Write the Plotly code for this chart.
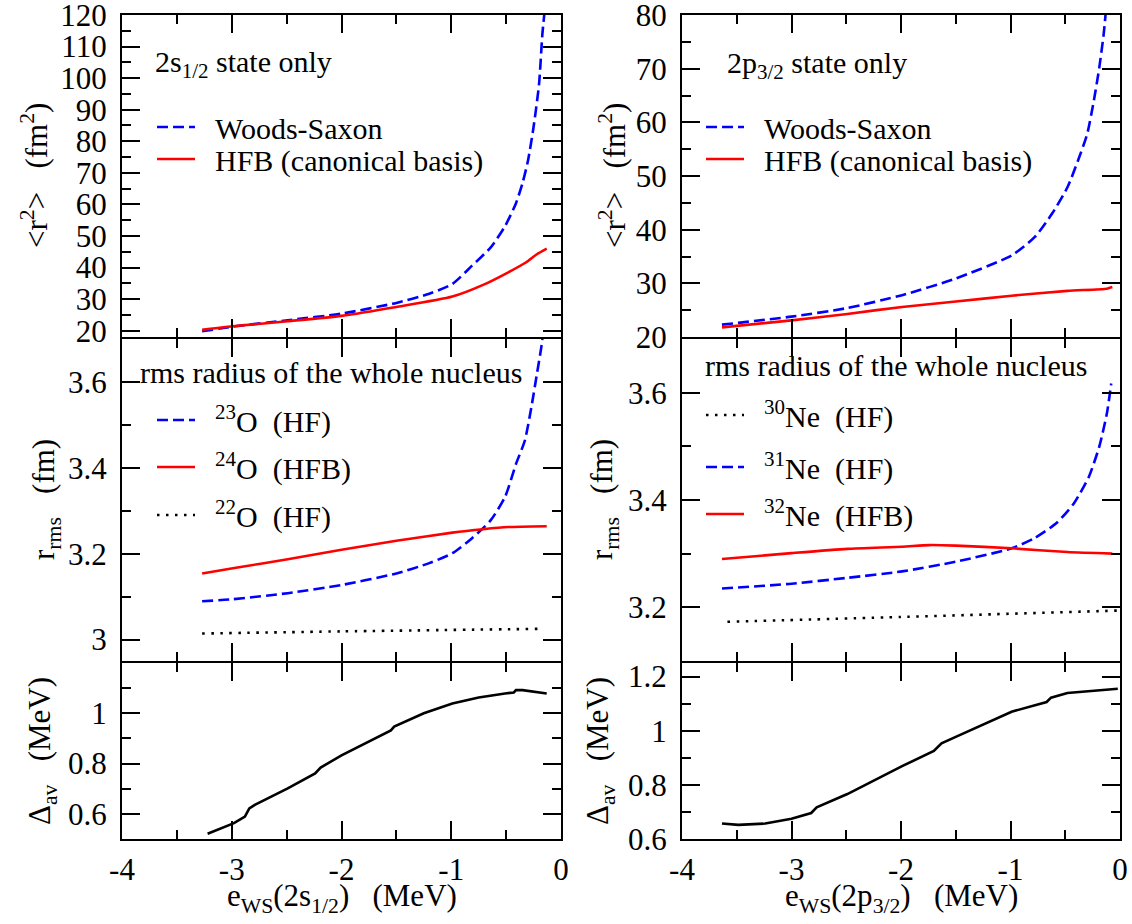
import plotly.graph_objects as go

# ---------------- data ----------------
# left column : 2s1/2 state (O isotopes)
ws_s_x = [-3.27, -2.99, -2.49, -2.0, -1.50, -1.20, -0.99, -0.81, -0.64, -0.51,
          -0.41, -0.35, -0.30, -0.25, -0.20, -0.17, -0.15]
ws_s_r2 = [19.8, 21.3, 23.3, 25.4, 28.8, 31.7, 34.8, 40.6, 46.4, 53.1,
           60.4, 66.8, 74.0, 84.5, 98.1, 113.8, 121.0]
hfb_s_x = [-3.27, -2.99, -2.49, -2.0, -1.50, -0.99, -0.71, -0.48, -0.32, -0.22, -0.13]
hfb_s_r2 = [20.3, 21.4, 23.0, 24.7, 27.5, 30.8, 34.5, 38.5, 41.6, 44.2, 46.0]

o23_x = [-3.27, -2.99, -2.49, -2.0, -1.50, -1.20, -0.99, -0.81, -0.64, -0.51,
         -0.41, -0.33, -0.27, -0.22, -0.18, -0.16]
o23_r = [3.089, 3.094, 3.108, 3.127, 3.154, 3.178, 3.201, 3.236, 3.278, 3.332,
         3.409, 3.463, 3.541, 3.618, 3.680, 3.720]
o24_x = [-3.27, -2.99, -2.49, -2.0, -1.50, -0.99, -0.71, -0.48, -0.13]
o24_r = [3.154, 3.166, 3.187, 3.209, 3.230, 3.249, 3.257, 3.262, 3.264]
o22_x = [-3.27, -2.0, -0.18]
o22_r = [3.014, 3.019, 3.025]

dav_s_x = [-3.22, -2.98, -2.88, -2.84, -2.79, -2.49, -2.24, -2.19, -2.0, -1.55,
           -1.52, -1.25, -0.99, -0.75, -0.51, -0.43, -0.41, -0.35, -0.13]
dav_s = [0.521, 0.563, 0.589, 0.622, 0.636, 0.701, 0.761, 0.784, 0.833, 0.932,
         0.947, 1.000, 1.039, 1.063, 1.079, 1.083, 1.092, 1.092, 1.079]

# right column : 2p3/2 state (Ne isotopes)
ws_p_x = [-3.635, -3.0, -2.49, -1.99, -1.50, -0.99, -0.78, -0.62, -0.48, -0.385,
          -0.30, -0.24, -0.19, -0.15, -0.13]
ws_p_r2 = [22.3, 23.8, 25.4, 27.8, 30.9, 35.2, 38.6, 43.0, 47.9, 52.8,
           57.8, 63.9, 70.1, 76.3, 80.5]
hfb_p_x = [-3.635, -3.0, -2.49, -1.99, -1.50, -0.99, -0.48, -0.12, -0.07]
hfb_p_r2 = [21.8, 23.1, 24.3, 25.6, 26.6, 27.7, 28.6, 29.0, 29.3]

ne30_x = [-3.585, -2.0, -0.02]
ne30_r = [3.173, 3.182, 3.194]
ne31_x = [-3.635, -3.0, -2.49, -1.99, -1.50, -0.99, -0.78, -0.58, -0.42, -0.285,
          -0.19, -0.12, -0.08]
ne31_r = [3.235, 3.244, 3.255, 3.267, 3.285, 3.310, 3.329, 3.357, 3.394, 3.443,
          3.499, 3.561, 3.617]
ne32_x = [-3.635, -3.0, -2.49, -1.99, -1.74, -1.50, -0.99, -0.48, -0.07]
ne32_r = [3.290, 3.301, 3.309, 3.313, 3.316, 3.315, 3.310, 3.303, 3.300]

dav_p_x = [-3.635, -3.486, -3.24, -3.0, -2.82, -2.77, -2.49, -2.24, -1.99, -1.70,
           -1.63, -1.50, -0.99, -0.67, -0.63, -0.48, -0.12, -0.02]
dav_p = [0.657, 0.652, 0.657, 0.675, 0.696, 0.717, 0.766, 0.817, 0.869, 0.925,
         0.953, 0.977, 1.070, 1.106, 1.122, 1.139, 1.152, 1.155]

x_range = [-4, 0]
x_tickvals = [-4, -3, -2, -1, 0]
x_ticktext = ["-4", "-3", "-2", "-1", "0"]

# ---------------- styling ----------------
W, H = 1132, 924
FONT = "Liberation Serif"
TICKF = 31
TXTF = 30
BLUE = "#0000ff"
RED = "#ff0000"
DASH = "11px,5px"
DOT = "2.5px,6.5px"
LW = 2.6
SP = "\u00a0"

def px_x(p):
    return p / W

def px_y(p):
    return 1 - p / H

colL = [px_x(122), px_x(561)]
colR = [px_x(682), px_x(1120)]
rowT = [px_y(337), px_y(15)]
rowM = [px_y(661), px_y(339)]
rowB = [px_y(839), px_y(663)]

fig = go.Figure()
legends = {}

def add(x, y, ax, color, dash, name=None, leg=None, smooth=True):
    lname = None
    if name:
        lname = "legend" if not legends else "legend%d" % (len(legends) + 1)
        legends[lname] = leg
    line = dict(color=color, width=LW, dash=dash)
    if smooth:
        line.update(shape="spline", smoothing=0.6)
    fig.add_trace(go.Scatter(
        x=x, y=y, mode="lines", xaxis="x" + ax, yaxis="y" + ax,
        line=line,
        name=(SP * 2 + name) if name else "", showlegend=bool(name),
        legend=lname if lname else "legend",
        hoverinfo="skip"))

# legend positions: (left px of sample line, row centre px)
add(ws_s_x, ws_s_r2, "1", BLUE, DASH, "Woods-Saxon", (162, 127))
add(hfb_s_x, hfb_s_r2, "1", RED, "solid", "HFB (canonical basis)", (162, 159))
add(o23_x, o23_r, "2", BLUE, DASH, "<sup>23</sup>O" + SP * 2 + "(HF)", (162, 420))
add(o24_x, o24_r, "2", RED, "solid", "<sup>24</sup>O" + SP * 2 + "(HFB)", (162, 467))
add(o22_x, o22_r, "2", "black", DOT, "<sup>22</sup>O" + SP * 2 + "(HF)", (162, 515))
add(dav_s_x, dav_s, "3", "black", "solid", smooth=False)
add(ws_p_x, ws_p_r2, "4", BLUE, DASH, "Woods-Saxon", (711, 127))
add(hfb_p_x, hfb_p_r2, "4", RED, "solid", "HFB (canonical basis)", (711, 159))
add(ne30_x, ne30_r, "5", "black", DOT, "<sup>30</sup>Ne" + SP * 2 + "(HF)", (711, 415))
add(ne31_x, ne31_r, "5", BLUE, DASH, "<sup>31</sup>Ne" + SP * 2 + "(HF)", (711, 467))
add(ne32_x, ne32_r, "5", RED, "solid", "<sup>32</sup>Ne" + SP * 2 + "(HFB)", (711, 514))
add(dav_p_x, dav_p, "6", "black", "solid", smooth=False)

def axis_common():
    return dict(showline=True, linecolor="black", linewidth=2.2, mirror="allticks",
                ticks="inside", ticklen=18, tickwidth=1.8, tickcolor="black",
                showgrid=False, zeroline=False, automargin=False,
                ticklabeloverflow="allow",
                tickfont=dict(family=FONT, size=TICKF, color="black"))

def xaxis(dom, anchor, labels):
    d = axis_common()
    d.update(domain=dom, anchor=anchor, range=x_range, tickmode="array",
             tickvals=x_tickvals, ticktext=x_ticktext,
             showticklabels=labels, ticklabelstandoff=2,
             minor=dict(dtick=0.5, tick0=0, ticklen=9, tickwidth=1.8,
                        tickcolor="black", ticks="inside"))
    return d

def yaxis(dom, anchor, rng, dtick, mdtick, tickvals=None, ticktext=None):
    d = axis_common()
    d.update(domain=dom, anchor=anchor, range=rng, ticklabelstandoff=7,
             minor=dict(dtick=mdtick, tick0=0, ticklen=9, tickwidth=1.8,
                        tickcolor="black", ticks="inside"))
    if tickvals is not None:
        d.update(tickmode="array", tickvals=tickvals, ticktext=ticktext)
    else:
        d.update(dtick=dtick, tick0=0)
    return d

layout = dict(
    width=W, height=H, margin=dict(l=0, r=0, t=0, b=0, autoexpand=False),
    paper_bgcolor="white", plot_bgcolor="white",
    font=dict(family=FONT, size=TXTF, color="black"),
    xaxis=xaxis(colL, "y", False),
    yaxis=yaxis(rowT, "x", [18, 120], 10, 5),
    xaxis2=xaxis(colL, "y2", False),
    yaxis2=yaxis(rowM, "x2", [2.95, 3.70], 0.2, 0.1),
    xaxis3=xaxis(colL, "y3", True),
    yaxis3=yaxis(rowB, "x3", [0.5, 1.2], 0.2, 0.1,
                 tickvals=[0.6, 0.8, 1.0], ticktext=["0.6", "0.8", "1"]),
    xaxis4=xaxis(colR, "y4", False),
    yaxis4=yaxis(rowT, "x4", [20, 80], 10, 5),
    xaxis5=xaxis(colR, "y5", False),
    yaxis5=yaxis(rowM, "x5", [3.1, 3.7], 0.2, 0.1),
    xaxis6=xaxis(colR, "y6", True),
    yaxis6=yaxis(rowB, "x6", [0.6, 1.25], 0.2, 0.1),
    showlegend=True,
)
layout["yaxis3"]["minor"]["tickvals"] = [0.5, 0.7, 0.9, 1.1]

for lname, (lx, ly) in legends.items():
    layout[lname] = dict(x=px_x(lx - 10), y=px_y(ly), xanchor="left", yanchor="middle",
                         bgcolor="rgba(0,0,0,0)", borderwidth=0, itemwidth=38,
                         font=dict(family=FONT, size=TXTF, color="black"),
                         itemclick=False, itemdoubleclick=False)

fig.update_layout(**layout)

def ann(text, xp, yp, xanchor="left", angle=0, size=TXTF):
    fig.add_annotation(text=text, xref="paper", yref="paper", x=px_x(xp), y=px_y(yp),
                       xanchor=xanchor, yanchor="middle", showarrow=False,
                       textangle=angle, font=dict(family=FONT, size=size, color="black"))

ann("2s<sub>1/2</sub> state only", 153, 64)
ann("2p<sub>3/2</sub> state only", 725, 65)
ann("rms radius of the whole nucleus", 138, 373)
ann("rms radius of the whole nucleus", 703, 366)

ann("&lt;r<sup>2</sup>&gt;" + SP * 3 + "(fm<sup>2</sup>)", 34, 176, "center", -90, TICKF)
ann("r<sub>rms</sub>" + SP * 3 + "(fm)", 46, 500, "center", -90, TICKF)
ann("Δ<sub>av</sub>" + SP * 3 + "(MeV)", 42, 751, "center", -90, TICKF)
ann("&lt;r<sup>2</sup>&gt;" + SP * 3 + "(fm<sup>2</sup>)", 612, 176, "center", -90, TICKF)
ann("r<sub>rms</sub>" + SP * 3 + "(fm)", 604, 500, "center", -90, TICKF)
ann("Δ<sub>av</sub>" + SP * 3 + "(MeV)", 600, 751, "center", -90, TICKF)

ann("e<sub>WS</sub>(2s<sub>1/2</sub>)" + SP * 3 + "(MeV)", 342, 898, "center", 0, TICKF)
ann("e<sub>WS</sub>(2p<sub>3/2</sub>)" + SP * 3 + "(MeV)", 901, 898, "center", 0, TICKF)

fig.write_html("out.html", config={"displayModeBar": False},
               post_script="document.body.style.margin='0px';")
